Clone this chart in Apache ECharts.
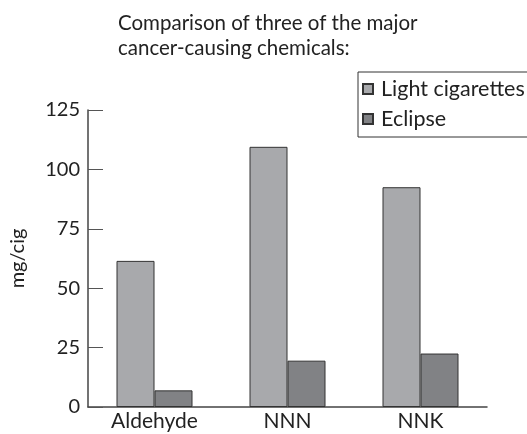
<!DOCTYPE html>
<html>
<head>
<meta charset="utf-8">
<script src="https://cdn.jsdelivr.net/npm/echarts@6/dist/echarts.min.js"></script>
<style>
  html, body { margin: 0; padding: 0; background: #fff; }
  #chart { width: 527px; height: 434px; }
</style>
</head>
<body>
<div id="chart"></div>
<script>
const categories = ["Aldehyde", "NNN", "NNK"];
const lightCigarettes = [61.5, 109.5, 92.5];
const eclipse = [7, 19.5, 22.5];
const yTicks = [0, 25, 50, 75, 100, 125];

const font = "Lato";
const myChart = echarts.init(document.getElementById("chart"));
myChart.setOption({
  animation: false,
  title: {
    text: "Comparison of three of the major\ncancer-causing chemicals:",
    left: 113,
    top: 6,
    textStyle: { fontFamily: font, fontSize: 20.5, fontWeight: "normal", color: "#222", lineHeight: 25 }
  },
  legend: {
    data: ["Light cigarettes", "Eclipse"],
    orient: "vertical",
    left: 358,
    top: 72,
    padding: [5, 40, 6, 4],
    itemGap: 6,
    itemWidth: 10,
    itemHeight: 10,
    borderColor: "#333",
    borderWidth: 1,
    icon: "rect",
    textStyle: { fontFamily: font, fontSize: 21.5, color: "#222", lineHeight: 24, padding: [0, 0, 0, 3] }
  },
  grid: { left: 85, right: 40, top: 110, bottom: 27 },
  xAxis: {
    type: "category",
    data: categories,
    axisLine: { lineStyle: { color: "#444", width: 1.5 } },
    axisTick: { inside: true, length: 15, lineStyle: { color: "#555" } },
    axisLabel: { fontFamily: font, fontSize: 21, color: "#222", margin: 4 }
  },
  yAxis: {
    type: "value",
    min: yTicks[0],
    max: yTicks[yTicks.length - 1],
    interval: 25,
    name: "mg/cig",
    nameLocation: "middle",
    nameGap: 60,
    nameTextStyle: { fontFamily: font, fontSize: 20, color: "#222" },
    axisLine: { show: true, lineStyle: { color: "#444", width: 1.5 } },
    axisTick: { show: true, inside: true, length: 15, lineStyle: { color: "#555" } },
    axisLabel: { fontFamily: font, fontSize: 20, color: "#222", margin: 8 },
    splitLine: { show: false }
  },
  series: [
    {
      name: "Light cigarettes",
      type: "bar",
      data: lightCigarettes,
      barWidth: 38,
      barGap: "0%",
      itemStyle: { color: "#a8a9ac", borderColor: "#333", borderWidth: 1 }
    },
    {
      name: "Eclipse",
      type: "bar",
      data: eclipse,
      barWidth: 38,
      barGap: "0%",
      itemStyle: { color: "#818285", borderColor: "#333", borderWidth: 1 }
    }
  ]
});
</script>
</body>
</html>
